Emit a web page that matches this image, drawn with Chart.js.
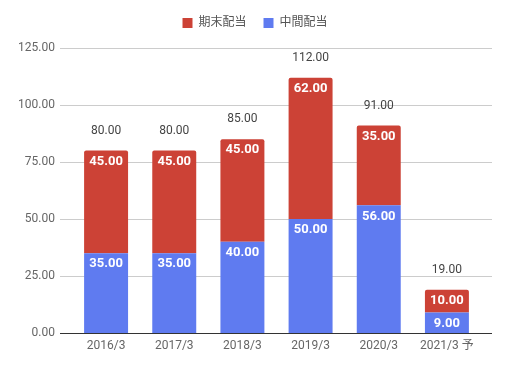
<!DOCTYPE html>
<html>
<head>
<meta charset="utf-8">
<script src="https://cdn.jsdelivr.net/npm/chart.js"></script>
<style>
  html, body { margin: 0; padding: 0; background: #fff; }
  #wrap { width: 510px; height: 368px; }
</style>
</head>
<body>
<div id="wrap"><canvas id="chart"></canvas></div>
<script>
// chart data
const categories = ['2016/3', '2017/3', '2018/3', '2019/3', '2020/3', '2021/3 予'];
const interimDividend = [35, 35, 40, 50, 56, 9];   // 中間配当
const yearEndDividend = [45, 45, 45, 62, 35, 10];  // 期末配当
const yTicks = [0, 25, 50, 75, 100, 125];

const RED = '#cc4236';
const BLUE = '#5f7bf0';
const FONT = "Roboto, 'Noto Sans CJK JP', sans-serif";

// extra room under the legend
const legendSpace = {
    id: 'legendSpace',
    beforeLayout(chart) {
        const lg = chart.legend;
        if (lg && !lg._patched) {
            const fit = lg.fit;
            lg.fit = function() { fit.call(this); this.height += 9; };
            lg._patched = true;
        }
    }
};

// grid lines drawn a bit wider than the category area (sheets style)
const gridPlugin = {
    id: 'wideGrid',
    beforeDatasetsDraw(chart) {
        const ctx = chart.ctx;
        const y = chart.scales.y;
        const x0 = chart.chartArea.left - 12;
        const x1 = chart.chartArea.right + 11;
        ctx.save();
        yTicks.forEach(v => {
            const py = Math.round(y.getPixelForValue(v)) + 0.5;
            ctx.strokeStyle = v === 0 ? '#333' : '#ccc';
            ctx.lineWidth = 1;
            ctx.beginPath();
            ctx.moveTo(x0, py);
            ctx.lineTo(x1, py);
            ctx.stroke();
        });
        ctx.restore();
    }
};

// value labels inside segments and totals on top
const labelPlugin = {
    id: 'valueLabels',
    afterDatasetsDraw(chart) {
        const ctx = chart.ctx;
        const y = chart.scales.y;
        ctx.save();
        ctx.textAlign = 'center';
        ctx.textBaseline = 'middle';
        chart.data.datasets.forEach((ds, di) => {
            const meta = chart.getDatasetMeta(di);
            meta.data.forEach((bar, i) => {
                ctx.fillStyle = '#fff';
                ctx.font = 'bold 13px ' + FONT;
                ctx.fillText(ds.data[i].toFixed(2), bar.x, bar.y + 11);
            });
        });
        const meta = chart.getDatasetMeta(0);
        meta.data.forEach((bar, i) => {
            const total = interimDividend[i] + yearEndDividend[i];
            ctx.fillStyle = '#444';
            ctx.font = '12px ' + FONT;
            ctx.fillText(total.toFixed(2), bar.x, y.getPixelForValue(total) - 20);
        });
        ctx.restore();
    }
};

new Chart(document.getElementById('chart'), {
    type: 'bar',
    data: {
        labels: categories,
        datasets: [{
            label: '中間配当',
            data: interimDividend,
            backgroundColor: BLUE,
            barPercentage: 0.645,
            categoryPercentage: 1
        }, {
            label: '期末配当',
            data: yearEndDividend,
            backgroundColor: RED,
            barPercentage: 0.645,
            categoryPercentage: 1,
            borderRadius: { topLeft: 2, topRight: 2 },
            borderSkipped: 'bottom'
        }]
    },
    options: {
        responsive: true,
        maintainAspectRatio: false,
        animation: false,
        layout: { padding: 0 },
        plugins: {
            legend: {
                position: 'top',
                reverse: true,
                labels: {
                    boxWidth: 10,
                    boxHeight: 10,
                    padding: 17,
                    color: '#555',
                    font: { family: FONT, size: 12 }
                }
            },
            tooltip: { enabled: false }
        },
        scales: {
            x: {
                stacked: true,
                grid: { display: false, drawTicks: false },
                border: { display: false },
                ticks: { color: '#666', font: { family: FONT, size: 12 }, padding: 6 },
                afterFit(scale) { scale.height = 35; }
            },
            y: {
                stacked: true,
                min: 0,
                max: 125,
                afterBuildTicks(scale) { scale.ticks = yTicks.map(v => ({ value: v })); },
                grid: { display: false, drawTicks: false },
                border: { display: false },
                ticks: {
                    color: '#666',
                    font: { family: FONT, size: 12 },
                    padding: 17,
                    callback: v => v.toFixed(2)
                },
                afterFit(scale) { scale.width = 72; }
            },
            // empty right-hand axis that only reserves space
            yRight: {
                position: 'right',
                grid: { display: false, drawTicks: false },
                border: { display: false },
                ticks: { display: false },
                afterFit(scale) { scale.width = 29; }
            }
        }
    },
    plugins: [legendSpace, gridPlugin, labelPlugin]
});
</script>
</body>
</html>
